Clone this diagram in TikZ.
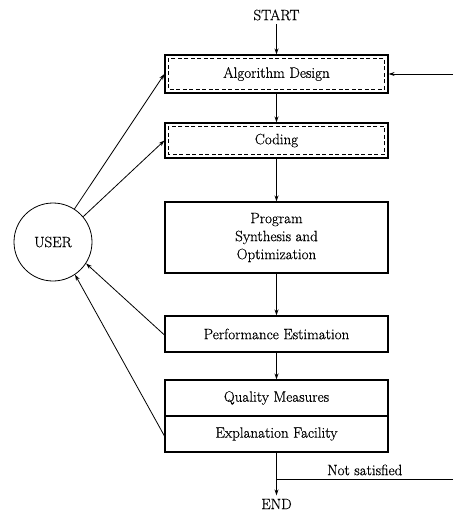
\documentclass[tikz,border=0pt]{standalone}
\usepackage{fontspec}
\setmainfont{Latin Modern Roman}[FakeBold=0.5]
\usetikzlibrary{arrows.meta}
\begin{document}
\begin{tikzpicture}[x=1pt,y=-1pt,
  every node/.style={font=\fontsize{15}{18}\selectfont},
  box/.style={draw,line width=1.1pt,minimum width=223pt,inner sep=0pt,align=center},
  arr/.style={line width=0.8pt,-{Stealth[length=6pt,width=4pt]}},
  plain/.style={line width=0.8pt},
  inner/.style={dashed,line width=0.9pt,dash pattern=on 4pt off 2.5pt}]
\useasboundingbox[fill=white] (0,0) rectangle (453,514);
\node (start) at (276.5,15) {START};
\node[box,minimum height=38pt] (ad) at (276.5,74) {Algorithm Design};
\node[box,minimum height=35pt] (cod) at (276.5,140.5) {Coding};
\node[box,minimum height=71pt] (ps) at (276.5,237.5) {Program\\Synthesis and\\Optimization};
\node[box,minimum height=36pt] (pe) at (276.5,334) {Performance Estimation};
\node[box,minimum height=36pt] (qm) at (276.5,398) {Quality Measures};
\node[box,minimum height=36pt] (ef) at (276.5,434) {Explanation Facility};
\node (end) at (276.5,504) {END};
\node[draw,circle,line width=0.8pt,minimum size=78pt,inner sep=0pt] (user) at (53,242) {USER};
\draw[inner] ([shift={(4pt,-4pt)}]ad.north west) rectangle ([shift={(-4pt,4pt)}]ad.south east);
\draw[inner] ([shift={(4pt,-4pt)}]cod.north west) rectangle ([shift={(-4pt,4pt)}]cod.south east);
\coordinate (rin) at (453,74);
\coordinate (nsr) at (453,479);
\coordinate (nsl) at (276.5,479);
\draw[arr] (start) -- (ad);
\draw[arr] (rin) -- (ad.east);
\draw[arr] (ad) -- (cod);
\draw[arr] (cod) -- (ps);
\draw[arr] (ps) -- (pe);
\draw[arr] (pe) -- (qm);
\draw[arr] (ef.south) -- (end.north);
\draw[plain] (nsr) -- node[above=0pt] {Not satisfied} (nsl);
\draw[arr] (user.57) -- (ad.west);
\draw[arr] (user.40) -- (cod.west);
\draw[arr] ([yshift=-1pt]pe.west) -- (user.-33);
\draw[arr] ([yshift=-2pt]ef.west) -- (user.-56);
\end{tikzpicture}
\end{document}
